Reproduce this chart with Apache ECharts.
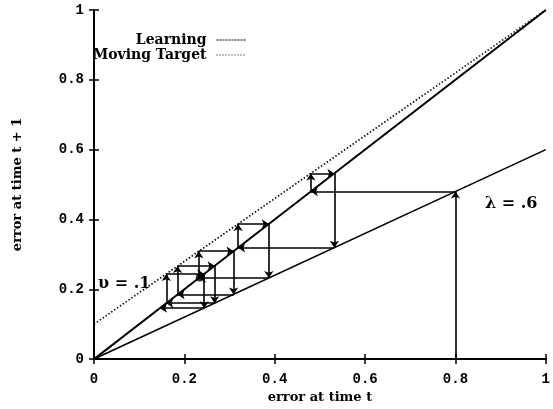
<!DOCTYPE html>
<html>
<head>
<meta charset="utf-8">
<script src="https://cdn.jsdelivr.net/npm/echarts@6/dist/echarts.min.js"></script>
<style>
  html, body { margin: 0; padding: 0; background: #fff; }
  #chart { width: 553px; height: 409px; }
</style>
</head>
<body>
<div id="chart"></div>
<script>
// axis ticks
var xTicks = [0, 0.2, 0.4, 0.6, 0.8, 1]
var yTicks = [0, 0.2, 0.4, 0.6, 0.8, 1]

// curves
var learningLine = [[0, 0], [1, 0.6]] // lambda = .6
var diagonalLine = [[0, 0], [0.2, 0.2], [0.5, 0.5], [0.8, 0.8], [1, 1]]
var movingTarget = [[0, 0.1], [1, 1]] // v = .1

// cobweb path
var cobweb = [
  [0.8, 0], [0.8, 0.48], [0.48, 0.48], [0.48, 0.532], [0.532, 0.532],
  [0.532, 0.319], [0.319, 0.319], [0.319, 0.387], [0.387, 0.387],
  [0.387, 0.232], [0.232, 0.232], [0.232, 0.309], [0.309, 0.309],
  [0.309, 0.185], [0.185, 0.185], [0.185, 0.267], [0.267, 0.267],
  [0.267, 0.160], [0.160, 0.160], [0.160, 0.244], [0.244, 0.244],
  [0.244, 0.146], [0.146, 0.146]
]
var fixedPoint = [[0.234, 0.234]]

var serif = '"DejaVu Serif", "Liberation Serif", serif'
var mono = '"Liberation Mono", "DejaVu Sans Mono", monospace'

var segs = []
for (var i = 0; i < cobweb.length - 1; i++) {
  segs.push({ coords: [cobweb[i], cobweb[i + 1]] })
}

function tickFmt(v) {
  if (v === 0) return '0'
  if (v === 1) return '1'
  return v.toFixed(1)
}

var chart = echarts.init(document.getElementById('chart'))
var axisCommon = {
  type: 'value',
  min: 0,
  max: 1,
  interval: 0.2,
  splitLine: { show: false },
  axisLine: { show: true, lineStyle: { color: '#000', width: 2 } },
  axisTick: { show: true, inside: true, length: 5, lineStyle: { color: '#000', width: 1.5 } }
}
var legendText = { fontFamily: serif, fontWeight: 'bold', fontSize: 14, color: '#000', padding: [0, 5, 0, 0] }
var option = {
  animation: false,
  grid: { left: 94, right: 3, top: 10, bottom: 46, containLabel: false },
  legend: [
    {
      right: 301, top: 28, align: 'right', orient: 'vertical',
      itemWidth: 30, itemHeight: 8,
      textStyle: legendText,
      data: [{ name: 'Learning', itemStyle: { opacity: 0 }, lineStyle: { type: [2, 1], width: 1 } }]
    },
    {
      right: 301, top: 43, align: 'right', orient: 'vertical',
      itemWidth: 30, itemHeight: 8,
      textStyle: legendText,
      data: [{ name: 'Moving Target', itemStyle: { opacity: 0 }, lineStyle: { type: [1, 2], width: 1 } }]
    }
  ],
  xAxis: [
    Object.assign({}, axisCommon, {
      position: 'bottom',
      name: 'error at time t',
      nameLocation: 'middle',
      nameGap: 28,
      nameTextStyle: { fontFamily: serif, fontWeight: 'bold', fontSize: 13, color: '#000' },
      axisLabel: { formatter: tickFmt, margin: 13, fontFamily: mono, fontWeight: 'bold', fontSize: 14, color: '#000' }
    }),
    Object.assign({}, axisCommon, { position: 'top', axisLabel: { show: false } })
  ],
  yAxis: [
    Object.assign({}, axisCommon, {
      position: 'left',
      name: 'error at time t + 1',
      nameLocation: 'middle',
      nameGap: 70,
      nameTextStyle: { fontFamily: serif, fontWeight: 'bold', fontSize: 13, color: '#000' },
      axisLabel: { formatter: tickFmt, margin: 10, fontFamily: mono, fontWeight: 'bold', fontSize: 14, color: '#000' }
    }),
    Object.assign({}, axisCommon, { position: 'right', axisLabel: { show: false } })
  ],
  series: [
    {
      name: 'Learning', type: 'line', data: learningLine, symbol: 'none',
      lineStyle: { color: '#000', width: 1.6 }, itemStyle: { color: '#000' }
    },
    {
      name: 'diagonal', type: 'line', data: diagonalLine, symbol: 'none',
      lineStyle: { color: '#000', width: 2 }
    },
    {
      name: 'Moving Target', type: 'line', data: movingTarget, symbol: 'none',
      lineStyle: { color: '#000', width: 1.6, type: [1.5, 2] }, itemStyle: { color: '#000' }
    },
    {
      name: 'cobweb', type: 'lines', coordinateSystem: 'cartesian2d',
      symbol: ['none', 'arrow'], symbolSize: 7,
      lineStyle: { color: '#000', width: 1.6, opacity: 1 },
      data: segs
    },
    {
      name: 'fixed', type: 'scatter', data: fixedPoint, symbolSize: 8,
      itemStyle: { color: '#000' }
    }
  ],
  graphic: [
    { type: 'text', left: 98, top: 276, style: { text: 'υ = .1', font: 'bold 16px ' + serif, fill: '#000' } },
    { type: 'text', left: 485, top: 196, style: { text: 'λ = .6', font: 'bold 16px ' + serif, fill: '#000' } }
  ]
}
chart.setOption(option)
window.addEventListener('resize', function() {
  chart.resize()
})
</script>
</body>
</html>
